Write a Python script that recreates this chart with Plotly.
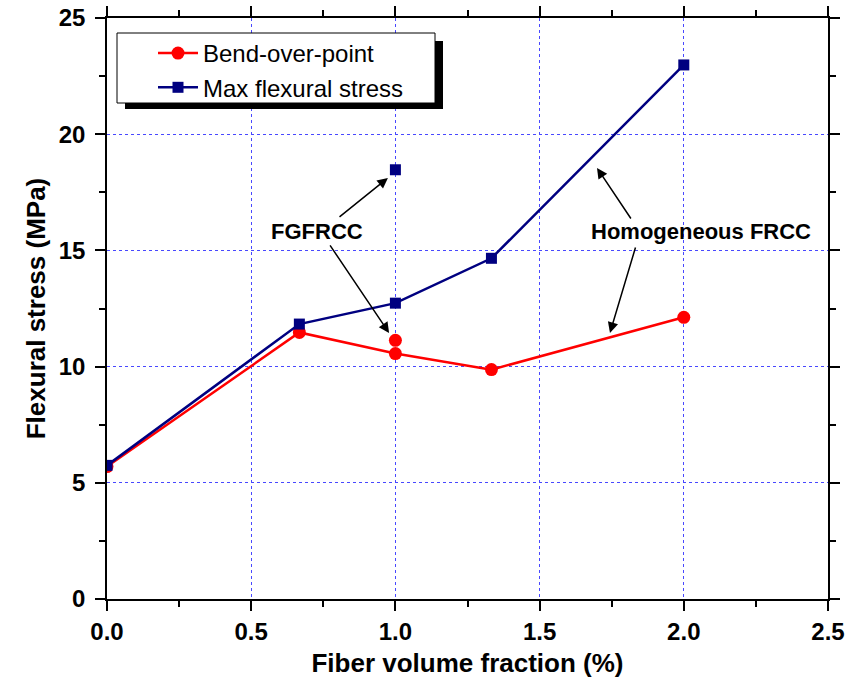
import plotly.graph_objects as go

# Data
x_series = [0.0, 0.667, 1.0, 1.333, 2.0]
bend_over_point = [5.70, 11.47, 10.56, 9.87, 12.12]
max_flexural = [5.75, 11.83, 12.73, 14.66, 22.98]

# FGFRCC (functionally graded) single points
x_fg = [1.0]
bend_fg = [11.13]
max_fg = [18.47]

RED = "#ff0000"
NAVY = "#000080"
FONT = "Liberation Sans, Arial, sans-serif"

fig = go.Figure()
fig.add_trace(go.Scatter(x=x_series, y=bend_over_point, mode="lines+markers",
                         name="Bend-over-point",
                         line=dict(color=RED, width=2.5),
                         marker=dict(symbol="circle", size=13, color=RED)))
fig.add_trace(go.Scatter(x=x_series, y=max_flexural, mode="lines+markers",
                         name="Max flexural stress",
                         line=dict(color=NAVY, width=2.5),
                         marker=dict(symbol="square", size=11, color=NAVY)))
fig.add_trace(go.Scatter(x=x_fg, y=bend_fg, mode="markers", showlegend=False,
                         marker=dict(symbol="circle", size=13, color=RED)))
fig.add_trace(go.Scatter(x=x_fg, y=max_fg, mode="markers", showlegend=False,
                         marker=dict(symbol="square", size=11, color=NAVY)))

W, H = 845, 684
L, R, T, B = 107, 17, 18, 85
pw, ph = W - L - R, H - T - B


def px(xp):
    return (xp - L) / pw


def py(yp):
    return (H - B - yp) / ph


axis_common = dict(
    showline=True, linecolor="black", linewidth=1.5, mirror="ticks",
    ticks="outside", ticklen=10, tickwidth=1.5, tickcolor="black",
    showgrid=True, gridcolor="#4848ff", griddash="dot", gridwidth=1,
    zeroline=False,
    tickfont=dict(family=FONT, size=24, color="black", weight="bold"),
)

fig.update_xaxes(range=[0, 2.5], dtick=0.5, tickformat=".1f",
                 minor=dict(dtick=0.25, ticks="outside", ticklen=6, tickwidth=1.5,
                            tickcolor="black", showgrid=False),
                 title=dict(text="Fiber volume fraction (%)", standoff=10,
                            font=dict(family=FONT, size=26, color="black", weight="bold")),
                 **axis_common)
fig.update_yaxes(range=[0, 25], dtick=5, ticklabelstandoff=5,
                 minor=dict(dtick=2.5, ticks="outside", ticklen=6, tickwidth=1.5,
                            tickcolor="black", showgrid=False),
                 title=dict(text="Flexural stress (MPa)", standoff=6,
                            font=dict(family=FONT, size=26, color="black", weight="bold")),
                 **axis_common)

# legend box with shadow
shapes = [
    dict(type="rect", xref="paper", yref="paper", x0=px(125), x1=px(443), y0=py(109), y1=py(41),
         fillcolor="black", line=dict(width=0), layer="above"),
    dict(type="rect", xref="paper", yref="paper", x0=px(117), x1=px(435), y0=py(103), y1=py(33),
         fillcolor="white", line=dict(color="black", width=1), layer="above"),
]

annotations = [
    dict(x=0.728, y=15.83, text="<b>FGFRCC</b>", showarrow=False,
         font=dict(family=FONT, size=22, color="black")),
    dict(x=2.06, y=15.83, text="<b>Homogeneous FRCC</b>", showarrow=False,
         font=dict(family=FONT, size=22, color="black")),
]
arrows = [
    ((0.801, 16.39), (0.974, 18.12)),
    ((0.770, 15.28), (0.978, 11.45)),
    ((1.820, 16.31), (1.699, 18.55)),
    ((1.834, 15.19), (1.744, 11.45)),
]
for (tx, ty), (hx, hy) in arrows:
    annotations.append(dict(x=hx, y=hy, ax=tx, ay=ty, xref="x", yref="y", axref="x", ayref="y",
                            text="", showarrow=True, arrowhead=2, arrowsize=1.4, arrowwidth=1.5,
                            arrowcolor="black"))

fig.update_layout(
    width=W, height=H,
    margin=dict(l=L, r=R, t=T, b=B, autoexpand=False),
    plot_bgcolor="white", paper_bgcolor="white",
    shapes=shapes, annotations=annotations,
    legend=dict(x=px(153), y=py(31), xanchor="left", yanchor="top",
                bgcolor="rgba(0,0,0,0)", borderwidth=0,
                font=dict(family=FONT, size=24, color="black"),
                tracegroupgap=0, itemwidth=40),
    showlegend=True,
)

fig.write_html("out.html")
